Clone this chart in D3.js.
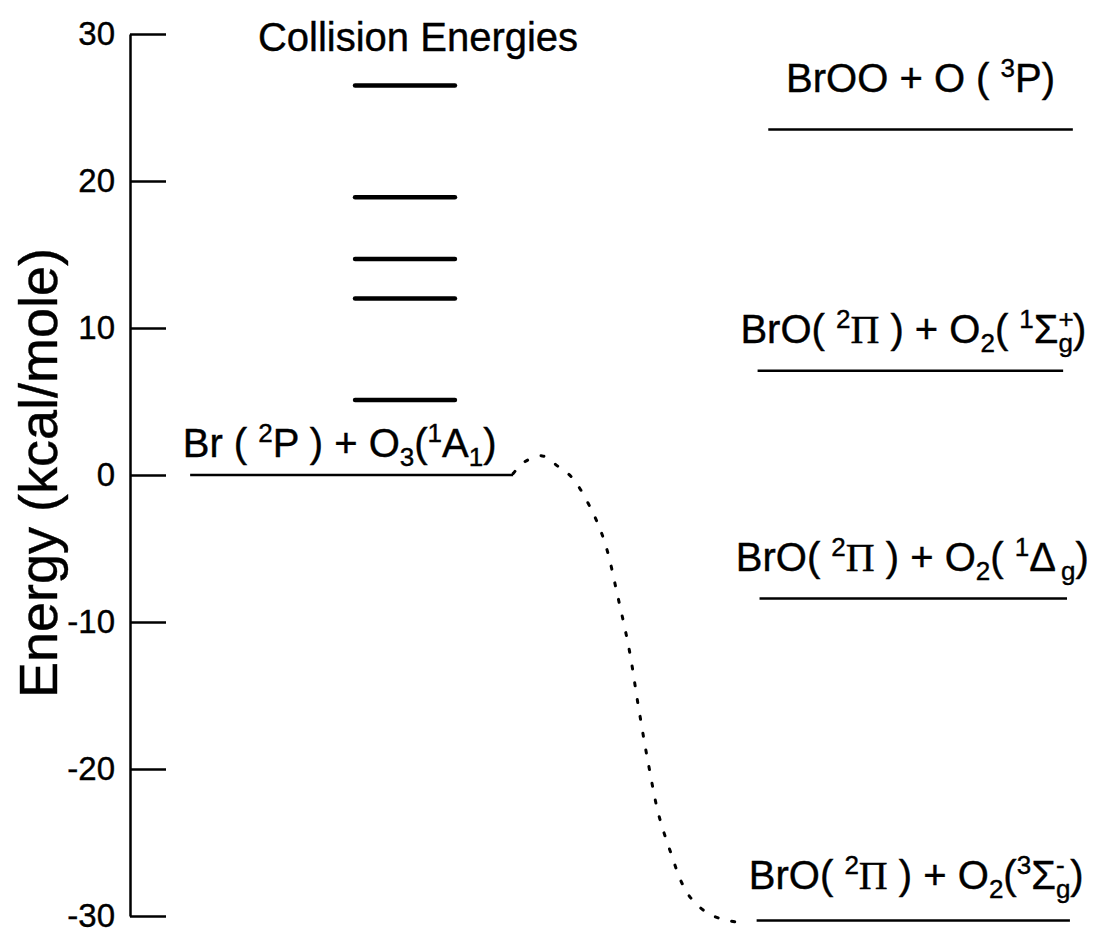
<!DOCTYPE html>
<html><head><meta charset="utf-8">
<script src="https://cdn.jsdelivr.net/npm/d3@7"></script>
<style>
html,body{margin:0;padding:0;background:#fff;}
svg{display:block;font-family:"Liberation Sans",Arial,Helvetica,sans-serif;}
</style></head>
<body><div id="chart"></div>
<script>
// ---- data ----
const yTicks = [-30, -20, -10, 0, 10, 20, 30];
const yTickLabels = ["-30", "-20", "-10", "0", "10", "20", "30"];
const yTitle = "Energy (kcal/mole)";
const collisionTitle = "Collision Energies";
const collisionEnergies = [26.5, 18.9, 14.7, 12.0, 5.1];
const collisionX = [23.2, 33.5];           // reaction-coordinate span
const levelEnergies = [0, 23.5, 7.1, -8.4, -30.3];
const levelStart = [6.2, 65.8, 64.7, 64.9, 64.6];
const levelEnd   = [39.5, 97.2, 96.2, 96.6, 96.9];
// label parts: [text, kind]
const levelLabels = [
  [["Br ( ",""],["2","sup"],["P ) + O",""],["3","sub"],["(",""],["1","sup"],["A",""],["1","sub"],[")",""]],
  [["BrOO + O ( ",""],["3","sup"],["P)",""]],
  [["BrO( ",""],["2","sup"],["Π","pi"],[" ) + O",""],["2","sub"],["( ",""],["1","sup"],["Σ",""],["+","stackSup"],["g","stackSub"],[")",""]],
  [["BrO( ",""],["2","sup"],["Π","pi"],[" ) + O",""],["2","sub"],["( ",""],["1","sup"],["Δ",""],["g","subSp"],[")",""]],
  [["BrO( ",""],["2","sup"],["Π","pi"],[" ) + O",""],["2","sub"],["(",""],["3","sup"],["Σ",""],["-","stackSup"],["g","stackSub"],[")",""]]
];
// dotted path (reaction coordinate, energy)
const pathX = [39.5, 40.7, 42.5, 44.1, 45.6, 47.6, 49.0, 50.3, 51.5, 52.4, 53.4, 54.5, 55.7, 57.0, 58.1, 59.8, 61.6, 63.4];
const pathE = [0.1, 0.9, 1.3, 0.6, -0.2, -2.4, -4.7, -8.3, -12.0, -15.7, -19.5, -23.1, -25.6, -27.9, -29.0, -29.9, -30.3, -30.5];

// ---- drawing ----
const W = 1107, H = 941;
const svg = d3.select("#chart").append("svg").attr("width", W).attr("height", H);
const y = d3.scaleLinear().domain([-30, 30]).range([916, 34]);
const x = d3.scaleLinear().domain([0, 100]).range([130, 1100]);

const axis = d3.axisLeft(y).tickValues(yTicks)
  .tickFormat((d, i) => yTickLabels[i])
  .tickSizeInner(-36).tickSizeOuter(0).tickPadding(15);
const gAxis = svg.append("g").attr("transform", `translate(${x(0)},0)`).call(axis);
gAxis.attr("font-size", null).attr("font-family", null);
gAxis.select(".domain").attr("stroke", "#000").attr("stroke-width", 2.5);
gAxis.selectAll(".tick line").attr("stroke", "#000").attr("stroke-width", 2.5);
gAxis.selectAll(".tick text").attr("font-size", 33).attr("fill", "#000")
  .attr("stroke", "#000").attr("stroke-width", 0.4);

svg.append("text").attr("transform", `translate(57,${y(0) - 2}) rotate(-90)`)
  .attr("text-anchor", "middle").attr("font-size", 54)
  .attr("stroke", "#000").attr("stroke-width", 0.4).text(yTitle);

svg.append("text").attr("x", 418).attr("y", 51).attr("text-anchor", "middle")
  .attr("font-size", 40).attr("stroke", "#000").attr("stroke-width", 0.4).text(collisionTitle);

svg.selectAll(".coll").data(collisionEnergies).enter().append("line")
  .attr("x1", x(collisionX[0])).attr("x2", x(collisionX[1]))
  .attr("y1", d => y(d)).attr("y2", d => y(d))
  .attr("stroke", "#000").attr("stroke-width", 4.5).attr("stroke-linecap", "round");

svg.selectAll(".lvl").data(levelEnergies).enter().append("line")
  .attr("x1", (d, i) => x(levelStart[i])).attr("x2", (d, i) => x(levelEnd[i]))
  .attr("y1", d => y(d)).attr("y2", d => y(d))
  .attr("stroke", "#000").attr("stroke-width", 2.5);

const labelGap = [18, 38, 28, 27, 31];
const labelShift = [-12, 0, 3, -1, 3];
const FS = 40, SFS = 26;
levelLabels.forEach((parts, i) => {
  const t = svg.append("text")
    .attr("x", (x(levelStart[i]) + x(levelEnd[i])) / 2 + labelShift[i])
    .attr("y", y(levelEnergies[i]) - labelGap[i])
    .attr("text-anchor", "middle").attr("font-size", FS)
    .attr("stroke", "#000").attr("stroke-width", 0.4);
  let cur = 0; let lastW = 0;
  parts.forEach(([s, k]) => {
    const ts = t.append("tspan").text(s);
    let target = 0, dx = 0;
    if (k === "sup" || k === "stackSup") { target = -15; ts.attr("font-size", SFS); }
    else if (k === "sub" || k === "subSp") { target = 9; ts.attr("font-size", SFS); if (k === "subSp") dx = 5; }
    else if (k === "stackSub") { target = 9; ts.attr("font-size", SFS); dx = -lastW; }
    else if (k === "pi") { ts.attr("font-family", "'Liberation Serif','Times New Roman',serif"); }
    ts.attr("dy", target - cur);
    if (dx) ts.attr("dx", dx);
    cur = target;
    lastW = ts.node().getComputedTextLength();
  });
});

const line = d3.line().x((d, i) => x(pathX[i])).y((d, i) => y(pathE[i])).curve(d3.curveCatmullRom);
svg.append("path").attr("d", line(pathE)).attr("fill", "none")
  .attr("stroke", "#000").attr("stroke-width", 3).attr("stroke-linecap", "round")
  .attr("stroke-dasharray", "3 14");
</script></body></html>
